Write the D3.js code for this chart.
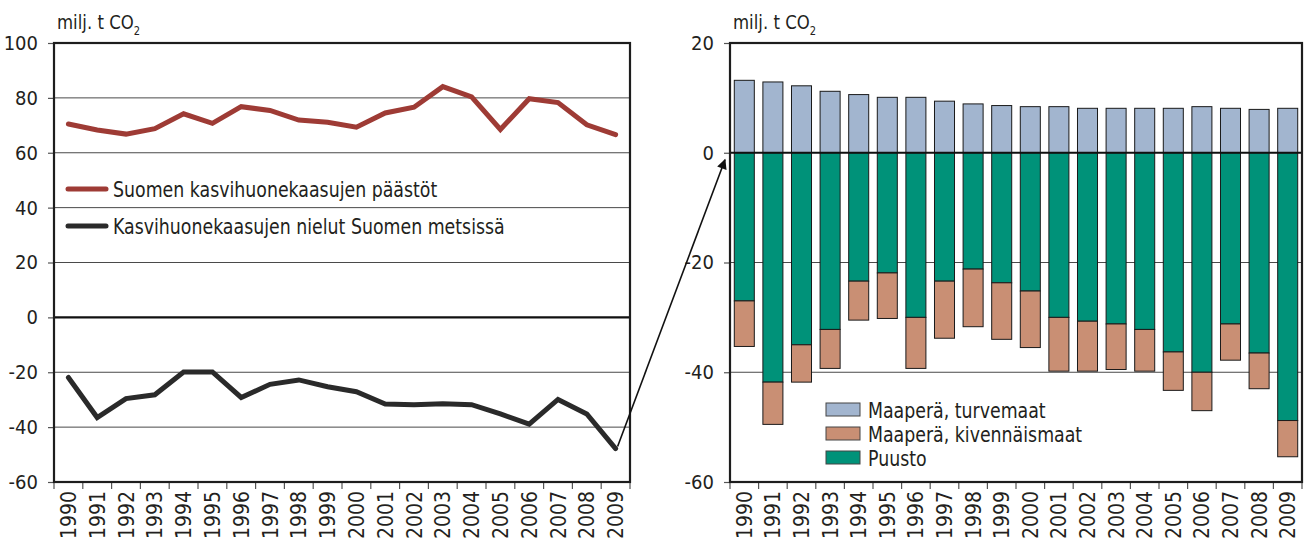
<!DOCTYPE html>
<html>
<head>
<meta charset="utf-8">
<script src="https://cdn.jsdelivr.net/npm/d3@7"></script>
<style>
  body { margin: 0; background: #fff; }
  svg text { font-family: "Liberation Sans Narrow", "DejaVu Sans Condensed", "Arial Narrow", sans-serif; fill: #231f20; }
</style>
</head>
<body>
<script>
const years = ["1990", "1991", "1992", "1993", "1994", "1995", "1996", "1997", "1998", "1999",
  "2000", "2001", "2002", "2003", "2004", "2005", "2006", "2007", "2008", "2009"];

// vasen: päästöt ja nielut
const emissions = [70.5, 68.3, 66.8, 68.8, 74.2, 70.7, 76.8, 75.4, 71.9, 71.1,
  69.3, 74.5, 76.6, 84.1, 80.4, 68.5, 79.7, 78.3, 70.2, 66.6];
const sinks = [-21.9, -36.5, -29.6, -28.2, -19.9, -19.9, -29.2, -24.4, -22.8, -25.3,
  -27.1, -31.6, -31.8, -31.5, -31.8, -35.2, -38.9, -29.9, -35.2, -47.8];

// oikea: nielujen osat
const turvemaat = [13.2, 12.9, 12.2, 11.2, 10.6, 10.1, 10.1, 9.4, 8.9, 8.6,
  8.4, 8.4, 8.1, 8.1, 8.1, 8.1, 8.4, 8.1, 7.9, 8.1];
const kivennaismaat = [-8.3, -7.7, -6.8, -7.1, -7.1, -8.3, -9.3, -10.4, -10.5, -10.3,
  -10.3, -9.8, -9.1, -8.3, -7.6, -7.0, -7.0, -6.6, -6.5, -6.6];
const puusto = [-27.0, -41.8, -35.0, -32.2, -23.4, -21.9, -30.0, -23.4, -21.2, -23.7,
  -25.2, -30.0, -30.7, -31.2, -32.2, -36.3, -40.0, -31.2, -36.5, -48.8];

const leftTicks = [100, 80, 60, 40, 20, 0, -20, -40, -60];
const rightTicks = [20, 0, -20, -40, -60];

const lineLegend = ["Suomen kasvihuonekaasujen päästöt", "Kasvihuonekaasujen nielut Suomen metsissä"];
const barLegend = ["Maaperä, turvemaat", "Maaperä, kivennäismaat", "Puusto"];

const w = 1306, h = 538;
const red = "#9e3b35", dark = "#2a2a2a";
const barColors = { turvemaat: "#a2b5cf", kivennaismaat: "#c98f74", puusto: "#009279" };
const squeeze = 0.92; // narrow the condensed font a bit more

const svg = d3.select("body").append("svg").attr("width", w).attr("height", h);

///////// common frame /////////
function drawFrame(g, x, y, ticks, x0, x1) {
  const [top, bottom] = y.range().slice().sort((a, b) => a - b);
  // gridlines
  g.append("g")
    .selectAll("line")
    .data(ticks.filter((t) => t !== 0))
    .enter()
    .append("line")
    .attr("x1", x0).attr("x2", x1)
    .attr("y1", (d) => y(d)).attr("y2", (d) => y(d))
    .attr("stroke", "#4a4a4a").attr("stroke-width", 1);
  // y axis
  const ya = g.append("g")
    .attr("transform", `translate(${x0},0)`)
    .call(d3.axisLeft(y).tickValues(ticks).tickSize(6).tickPadding(10).tickFormat((d) => String(d)));
  ya.select(".domain").remove();
  ya.selectAll(".tick line").attr("stroke", "#555").attr("stroke-width", 1.2);
  ya.selectAll("text").attr("font-size", 20).attr("fill", "#231f20");
  // x axis (ticks at category boundaries)
  const xa = g.append("g").attr("transform", `translate(0,${bottom})`);
  xa.selectAll("line")
    .data(d3.range(years.length + 1))
    .enter()
    .append("line")
    .attr("x1", (i) => x0 + i * x.step()).attr("x2", (i) => x0 + i * x.step())
    .attr("y1", 0).attr("y2", 7)
    .attr("stroke", "#555").attr("stroke-width", 1.2);
  xa.selectAll("text")
    .data(years)
    .enter()
    .append("text")
    .attr("transform", (d) => `translate(${x(d) + x.bandwidth() / 2},9) rotate(-90)`)
    .attr("text-anchor", "end")
    .attr("dy", "0.36em")
    .attr("font-size", 21)
    .text((d) => d);
  return { top, bottom };
}

function drawBorder(g, y, x0, x1) {
  const [top, bottom] = y.range().slice().sort((a, b) => a - b);
  g.append("line").attr("x1", x0).attr("x2", x1).attr("y1", y(0)).attr("y2", y(0))
    .attr("stroke", "#111").attr("stroke-width", 2.2);
  g.append("rect")
    .attr("x", x0).attr("y", top)
    .attr("width", x1 - x0).attr("height", bottom - top)
    .attr("fill", "none").attr("stroke", "#1d1d1d").attr("stroke-width", 2.2);
}

function unitLabel(g, x, y) {
  const t = g.append("g")
    .attr("transform", `translate(${x},${y}) scale(${squeeze},1)`)
    .append("text").attr("font-size", 20);
  t.append("tspan").text("milj. t CO");
  t.append("tspan").attr("font-size", 12).attr("dy", 6).text("2");
}

///////// left chart /////////
const L = { x0: 54, x1: 630, top: 43, bottom: 482 };
const xL = d3.scaleBand().domain(years).range([L.x0, L.x1]);
const yL = d3.scaleLinear().domain([100, -60]).range([L.top, L.bottom]);
const left = svg.append("g");
drawFrame(left, xL, yL, leftTicks, L.x0, L.x1);

const lineGen = d3.line()
  .x((d, i) => xL(years[i]) + xL.bandwidth() / 2)
  .y((d) => yL(d));

left.append("path").datum(emissions).attr("d", lineGen)
  .attr("fill", "none").attr("stroke", red).attr("stroke-width", 5)
  .attr("stroke-linejoin", "miter").attr("stroke-linecap", "round");
left.append("path").datum(sinks).attr("d", lineGen)
  .attr("fill", "none").attr("stroke", dark).attr("stroke-width", 5)
  .attr("stroke-linejoin", "miter").attr("stroke-linecap", "round");

drawBorder(left, yL, L.x0, L.x1);
unitLabel(left, L.x0 + 3, 29);

const lleg = left.append("g").attr("transform", `translate(68,189)`);
lleg.selectAll("line")
  .data(lineLegend)
  .enter()
  .append("line")
  .attr("x1", 0).attr("x2", 38)
  .attr("y1", (d, i) => i * 37).attr("y2", (d, i) => i * 37)
  .attr("stroke", (d, i) => (i === 0 ? red : dark))
  .attr("stroke-width", 5).attr("stroke-linecap", "round");
lleg.selectAll("g.item")
  .data(lineLegend)
  .enter()
  .append("g")
  .attr("class", "item")
  .attr("transform", (d, i) => `translate(45,${i * 37}) scale(${squeeze},1)`)
  .append("text")
  .attr("dy", "0.36em")
  .attr("font-size", 21)
  .text((d) => d);

///////// right chart /////////
const R = { x0: 730, x1: 1302, top: 43, bottom: 482 };
const xR = d3.scaleBand().domain(years).range([R.x0, R.x1]).paddingInner(0.3).paddingOuter(0.15);
const xRaxis = d3.scaleBand().domain(years).range([R.x0, R.x1]);
const yR = d3.scaleLinear().domain([20, -60]).range([R.top, R.bottom]);
const right = svg.append("g");
drawFrame(right, xRaxis, yR, rightTicks, R.x0, R.x1);

const table = years.map((y, i) => ({
  year: y,
  turvemaat: turvemaat[i],
  puusto: puusto[i],
  kivennaismaat: kivennaismaat[i],
}));
const keys = ["turvemaat", "puusto", "kivennaismaat"];
const series = d3.stack().keys(keys).offset(d3.stackOffsetDiverging)(table);

right.selectAll("g.layer")
  .data(series)
  .enter()
  .append("g")
  .attr("class", "layer")
  .attr("fill", (d) => barColors[d.key])
  .selectAll("rect")
  .data((d) => d)
  .enter()
  .append("rect")
  .attr("x", (d) => xR(d.data.year))
  .attr("width", xR.bandwidth())
  .attr("y", (d) => yR(Math.max(d[0], d[1])))
  .attr("height", (d) => Math.abs(yR(d[0]) - yR(d[1])))
  .attr("stroke", "#1a1a1a")
  .attr("stroke-width", 1);

drawBorder(right, yR, R.x0, R.x1);
unitLabel(right, R.x0 + 3, 29);

const rleg = right.append("g").attr("transform", `translate(826,403)`);
const legKeys = ["turvemaat", "kivennaismaat", "puusto"];
rleg.selectAll("rect")
  .data(barLegend)
  .enter()
  .append("rect")
  .attr("x", 0)
  .attr("y", (d, i) => i * 24)
  .attr("width", 34).attr("height", 13)
  .attr("fill", (d, i) => barColors[legKeys[i]])
  .attr("stroke", "#444").attr("stroke-width", 1);
rleg.selectAll("g.item")
  .data(barLegend)
  .enter()
  .append("g")
  .attr("class", "item")
  .attr("transform", (d, i) => `translate(42,${i * 24 + 7}) scale(${squeeze},1)`)
  .append("text")
  .attr("dy", "0.36em")
  .attr("font-size", 21)
  .text((d) => d);

///////// arrow from left 2009 point to right zero line /////////
svg.append("defs").append("marker")
  .attr("id", "head")
  .attr("viewBox", "0 0 10 10")
  .attr("refX", 9).attr("refY", 5)
  .attr("markerWidth", 18).attr("markerHeight", 10)
  .attr("markerUnits", "userSpaceOnUse")
  .attr("orient", "auto")
  .append("path")
  .attr("d", "M0,0 L10,5 L0,10 Z")
  .attr("fill", "#111");

const ax0 = xL(years[years.length - 1]) + xL.bandwidth() / 2 + 2;
const ay0 = yL(sinks[sinks.length - 1]) - 2;
svg.append("line")
  .attr("x1", ax0).attr("y1", ay0)
  .attr("x2", R.x0 - 5).attr("y2", yR(0) + 7)
  .attr("stroke", "#111").attr("stroke-width", 1.6)
  .attr("marker-end", "url(#head)");
</script>
</body>
</html>
